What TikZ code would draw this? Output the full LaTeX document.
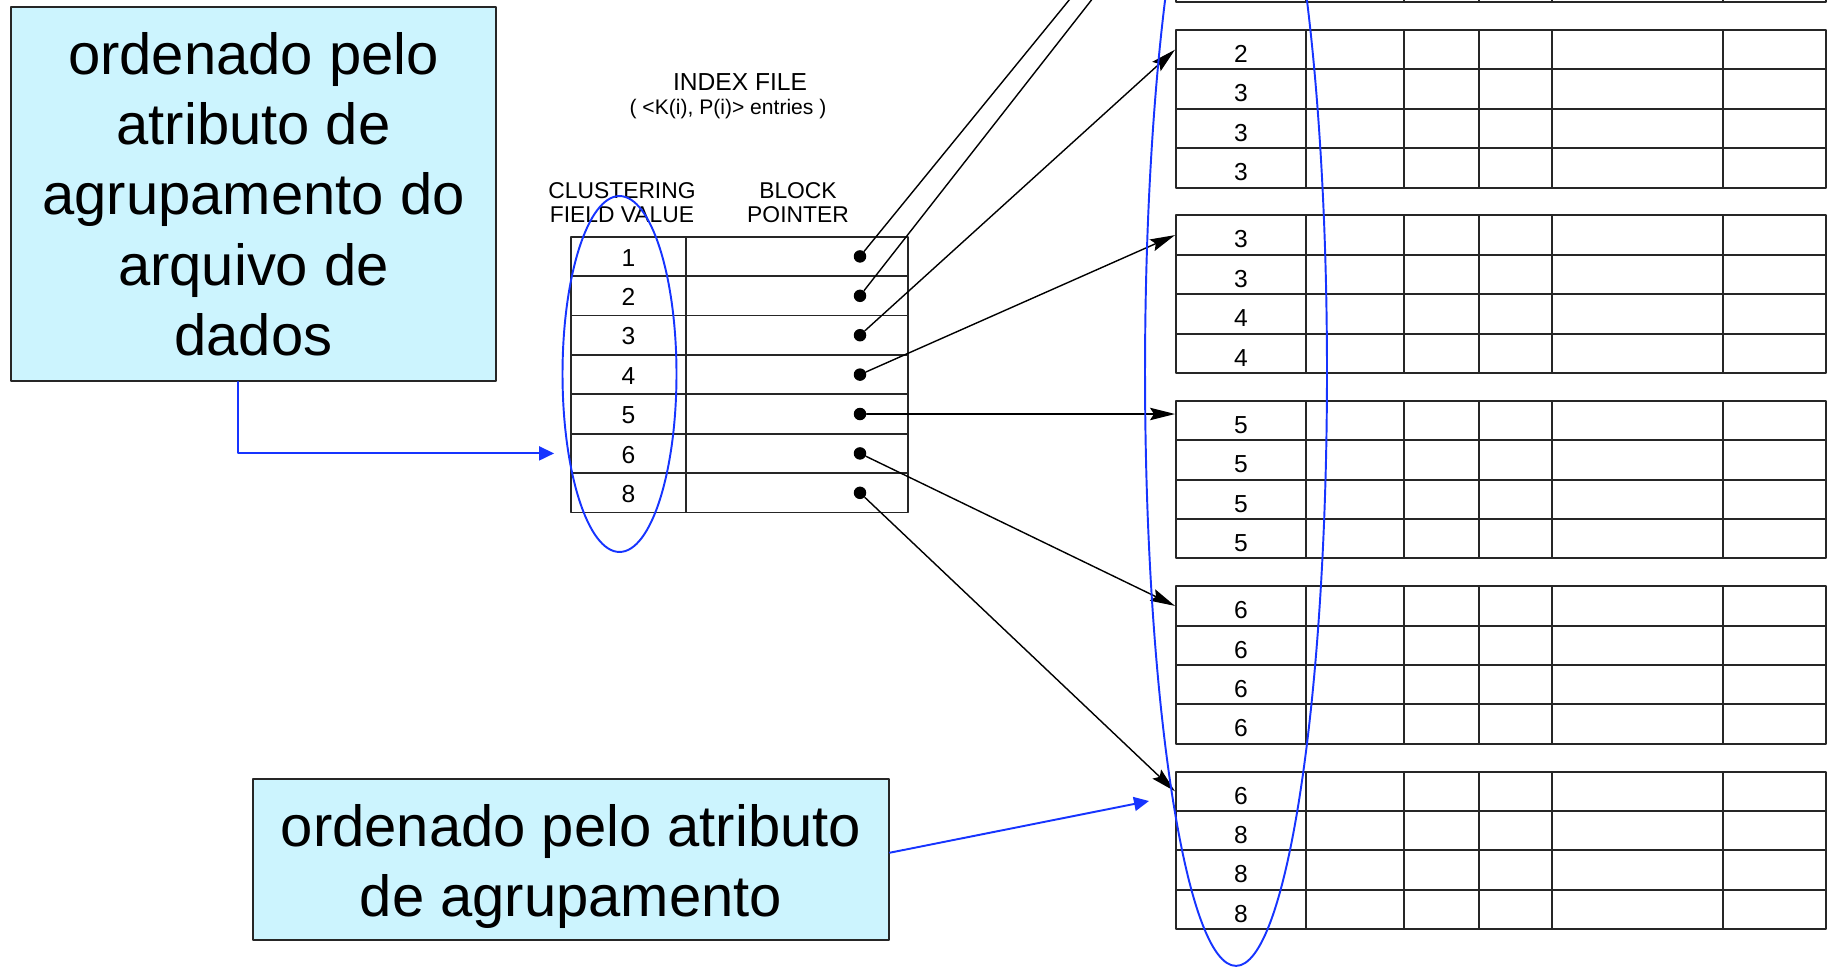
\documentclass[tikz,border=0pt]{standalone}
\usepackage{fontspec}
\setmainfont{Liberation Sans}
\usetikzlibrary{arrows.meta}
\definecolor{notefill}{RGB}{204,244,254}
\definecolor{markblue}{RGB}{22,52,255}
\begin{document}
\begin{tikzpicture}[x=0.02cm, y=-0.02cm, line join=round, line cap=round,
  cell/.style={draw=black!85, line width=1.05pt, minimum height=0.788cm, inner sep=0pt, text height=11pt, text depth=0pt, font=\fontsize{14}{14}\selectfont},
  grid/.style={draw=black!85, line width=1.05pt},
  dot/.style={circle, fill, inner sep=0pt, minimum size=0.25cm},
  ptr/.style={-{Stealth[length=0.5cm, width=0.25cm, inset=0.08cm]}, line width=0.8pt},
  note/.style={draw=black!85, line width=1pt, fill=notefill, align=center, inner sep=0pt, font=\fontsize{33}{40}\selectfont},
  bluelink/.style={markblue, line width=1.1pt, -{Triangle[length=0.3cm, width=0.28cm]}},
  hdr/.style={align=center, font=\fontsize{13}{13.7}\selectfont}]
 \useasboundingbox (0,0) rectangle (1829,967);
 \clip (0,0) rectangle (1829,967);
 % index file
 \node[anchor=base, font=\fontsize{14}{14}\selectfont] (title) at (740,90) {INDEX FILE};
 \node[anchor=base, font=\fontsize{12}{12}\selectfont] (entries) at (728,114) {( <K(i), P(i)> entries )};
 \node[hdr] (hkey) at (622,203) {CLUSTERING\\FIELD VALUE};
 \node[hdr] (hptr) at (798,203) {BLOCK\\POINTER};
 \foreach \v [count=\i] in {1,2,3,4,5,6,8} {
  \node[cell, minimum width=2.306cm] (k\i) at (628.35,{217+\i*39.4}) {\v};
  \node[cell, minimum width=4.446cm] (p\i) at (797.1,{217+\i*39.4}) {};
  \node[dot] (d\i) at (860,{217+\i*39.4}) {};
 }
 % data file: block 0 lies above the page
 \foreach \xa/\xb in {1176/1306,1306/1403.6,1403.6/1479.4,1479.4/1552.4,1552.4/1723,1723/1826}
  \foreach \r in {0,...,3}
   \draw[grid] (\xa,{-155.4+\r*39.4}) rectangle (\xb,{-116+\r*39.4});
 \coordinate (b0a) at (1176,-131);
 \coordinate (b0b) at (1176,-108);
 \foreach \vals [count=\b] in {{2,3,3,3},{3,3,4,4},{5,5,5,5},{6,6,6,6},{6,8,8,8}} {
  \foreach \v [count=\r] in \vals {
   \node[cell, minimum width=2.604cm, text height=14.6pt] (b\b r\r) at (1241,{-155.4+\b*185.4+(\r-0.5)*39.4}) {\v};
   \foreach \xa/\xb in {1306/1403.6,1403.6/1479.4,1479.4/1552.4,1552.4/1723,1723/1826}
    \draw[grid] (\xa,{-155.4+\b*185.4+(\r-1)*39.4}) rectangle (\xb,{-155.4+\b*185.4+\r*39.4});
  }
 }
 % block pointers
 \draw[ptr] (d1) -- (b0a);
 \draw[ptr] (d2) -- (b0b);
 \draw[ptr] (d3) -- (b1r1.west);
 \draw[ptr] (d4) -- (b2r1.west);
 \draw[ptr] (d5) -- (d5 -| b3r1.west);
 \draw[ptr] (d6) -- (b4r1.west);
 \draw[ptr] (d7) -- (b5r1.west);
 % notes
 \draw[markblue, line width=1.1pt] (619.5,374) ellipse [x radius=1.14cm, y radius=3.56cm];
 \draw[markblue, line width=1.1pt] (1236,372) ellipse [x radius=1.82cm, y radius=11.88cm];
 \node[note, minimum width=9.7cm, minimum height=7.48cm] (topnote) at (253.5,194) {ordenado pelo\\atributo de\\agrupamento do\\arquivo de\\dados};
 \node[note, minimum width=12.72cm, minimum height=3.22cm, text height=72pt] (botnote) at (571,859.5) {ordenado pelo atributo\\de agrupamento};
 \draw[bluelink] ([xshift=-0.31cm]topnote.south) |- ([xshift=-0.314cm]k6.west);
 \draw[bluelink] ([yshift=0.136cm]botnote.east) -- ([xshift=-0.52cm, yshift=-0.194cm]b5r1.west);
\end{tikzpicture}
\end{document}
